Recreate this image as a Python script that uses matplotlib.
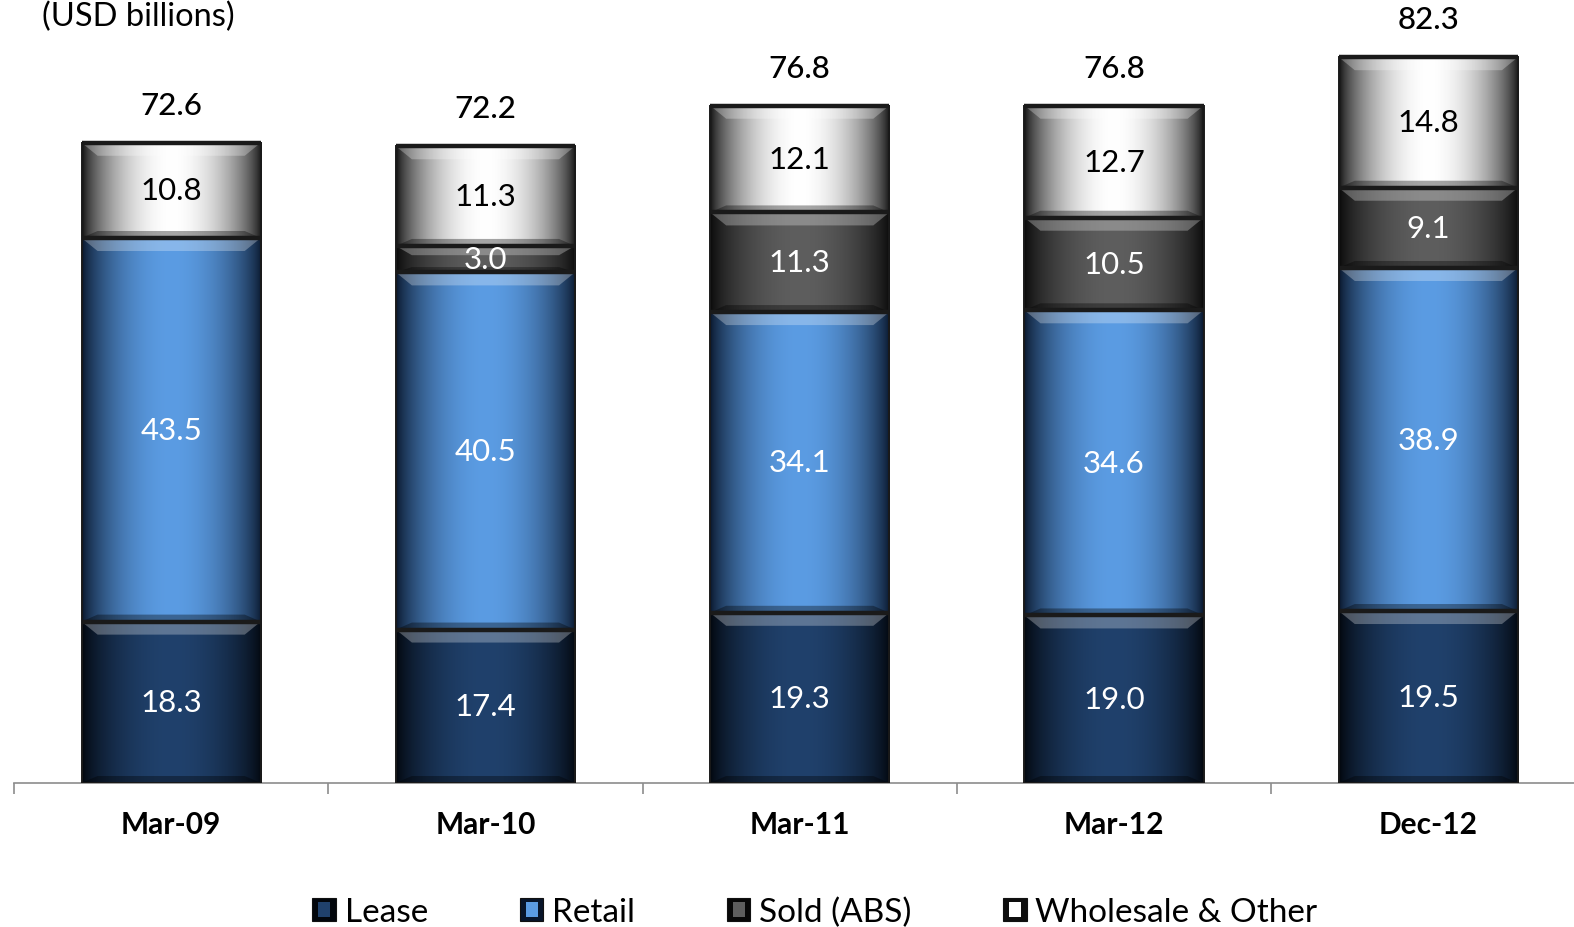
import numpy as np
import matplotlib
matplotlib.use('Agg')
import matplotlib.pyplot as plt
from matplotlib.patches import Polygon, Rectangle
from matplotlib.legend_handler import HandlerBase

plt.rcParams['font.family'] = ['Lato', 'DejaVu Sans']

periods = ['Mar-09', 'Mar-10', 'Mar-11', 'Mar-12', 'Dec-12']
lease = [18.3, 17.4, 19.3, 19.0, 19.5]
retail = [43.5, 40.5, 34.1, 34.6, 38.9]
sold_abs = [0.0, 3.0, 11.3, 10.5, 9.1]
wholesale = [10.8, 11.3, 12.1, 12.7, 14.8]

series_names = ['Lease', 'Retail', 'Sold (ABS)', 'Wholesale & Other']
series_values = [lease, retail, sold_abs, wholesale]
# (edge colour, centre colour, label colour)
styles = [
    ('#02060c', '#20416c', 'white'),
    ('#08152a', '#5b9ce3', 'white'),
    ('#080808', '#5e5e5e', 'white'),
    ('#0e0e0e', '#ffffff', 'black'),
]

W, H = 1574, 928
base_px = 784   # pixel row of the baseline
slot_px = 314.3
fig = plt.figure(figsize=(W / 100, H / 100), dpi=100)
ax = fig.add_axes([14 / W, (H - base_px) / H, 1 - 14 / W, base_px / H])

x = np.arange(len(periods))
bar_w = 0.57
ymax = 88.9
xmax = (W - 14) / slot_px - 0.5
px_y = ymax / base_px          # data units per pixel, vertical
px_x = (xmax + 0.5) / (W - 14)


def gradient(edge, centre, n=200):
    e = np.array(matplotlib.colors.to_rgb(edge))
    c = np.array(matplotlib.colors.to_rgb(centre))
    t = np.linspace(0, 1, n)
    prof = np.clip(np.sin(np.pi * t), 0, 1) ** 0.7
    return (e[None, :] + (c - e)[None, :] * prof[:, None])[None, :, :]


bottoms = np.zeros(len(periods))
for vals, (edge, centre, tc) in zip(series_values, styles):
    vals = np.array(vals)
    bars = ax.bar(x, vals, bar_w, bottom=bottoms, color=centre, linewidth=0, zorder=2)
    img = gradient(edge, centre)
    for rect, v, b in zip(bars, vals, bottoms):
        if v <= 0:
            continue
        x0 = rect.get_x()
        x1 = x0 + rect.get_width()
        top = b + v
        ax.imshow(img, extent=(x0, x1, b, top), aspect='auto', zorder=3, interpolation='bicubic')
        # bevel highlight along the top of each segment
        bh = min(13 * px_y, v * 0.35)
        ins = 16 * px_x
        ax.add_patch(Polygon([(x0, top), (x1, top), (x1 - ins, top - bh), (x0 + ins, top - bh)],
                             closed=True, facecolor='white', alpha=0.28, linewidth=0, zorder=4))
        # darker bevel along the bottom
        bb = min(7 * px_y, v * 0.2)
        ax.add_patch(Polygon([(x0, b), (x1, b), (x1 - ins, b + bb), (x0 + ins, b + bb)],
                             closed=True, facecolor='black', alpha=0.35, linewidth=0, zorder=4))
        ax.plot([x0, x1], [top, top], color='#1a1a1a', linewidth=3.2, zorder=5,
                solid_capstyle='butt')
        ax.text((x0 + x1) / 2, b + v / 2, f'{v:.1f}', ha='center', va='center',
                color=tc, fontsize=22.5, zorder=6)
    bottoms = bottoms + vals

# outline around each full bar, total on top
for xi, tot in zip(x, bottoms):
    ax.add_patch(Rectangle((xi - bar_w / 2, 0), bar_w, tot, fill=False,
                           edgecolor='#1a1a1a', linewidth=1.4, zorder=5))
    ax.text(xi, tot + 4.3, f'{tot:.1f}', ha='center', va='center',
            color='black', fontsize=22.5, fontweight='medium')

ax.set_xlim(-0.5, xmax)
ax.set_ylim(0, ymax)
ax.set_yticks([])
for s in ['top', 'right', 'left']:
    ax.spines[s].set_visible(False)
ax.spines['bottom'].set_color('#8c8c8c')
ax.spines['bottom'].set_linewidth(1.2)
ax.set_xticks(x)
ax.set_xticklabels(periods, fontsize=21.5, fontweight='bold')
ax.tick_params(axis='x', which='major', length=0, pad=19.5)
ax.set_xticks(np.arange(len(periods)) - 0.5, minor=True)
ax.tick_params(axis='x', which='minor', length=8, color='#8c8c8c', width=1.2)

fig.text(42 / W, 1 - 17 / H, '(USD billions)', fontsize=23.5, ha='left', va='center')


class BevelHandler(HandlerBase):
    def create_artists(self, legend, orig_handle, xdescent, ydescent, width, height,
                       fontsize, trans):
        edge, centre = orig_handle
        s = min(width, height)
        x0 = -xdescent
        y0 = -ydescent + (height - s) / 2
        outer = Rectangle((x0, y0), s, s, facecolor=edge, edgecolor='#111111',
                          linewidth=0.8, transform=trans)
        inner = Rectangle((x0 + s * 0.25, y0 + s * 0.18), s * 0.5, s * 0.64,
                          facecolor=centre, linewidth=0, transform=trans)
        return [outer, inner]


handles = [(e, c) for e, c, _ in styles]
fig.legend(handles, series_names, handler_map={tuple: BevelHandler()},
           loc='center', bbox_to_anchor=(815 / W, 15 / H), ncol=4, frameon=False,
           fontsize=24, handlelength=0.72, handleheight=0.72, handletextpad=0.25,
           columnspacing=2.75)

fig.savefig('out.png', dpi=100)
